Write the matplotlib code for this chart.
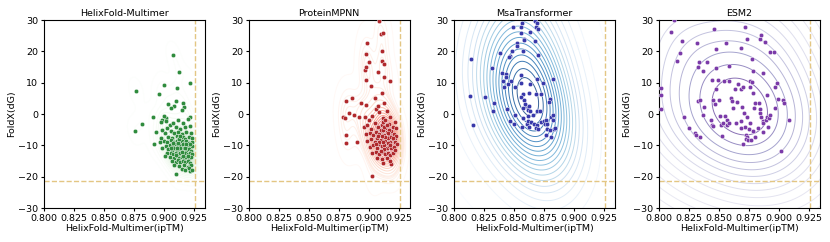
import numpy as np
import seaborn as sns
from matplotlib import pyplot as plt
from matplotlib.colors import ListedColormap

# ---- data (ipTM, FoldX dG) ----
helix_pts = [
    (0.908, 18.8), (0.913, 13.4), (0.922, 10.0), (0.877, 7.3), (0.900, 9.1), (0.911, 8.2),
    (0.896, 6.3), (0.904, 3.1), (0.910, 4.3), (0.909, 2.7), (0.906, 2.0), (0.916, 3.4),
    (0.917, 2.1), (0.915, 1.2), (0.922, -0.9), (0.891, -0.9), (0.902, -1.4), (0.899, -1.9),
    (0.894, -5.6), (0.882, -3.2), (0.876, -5.4), (0.892, -9.7), (0.910, -19.0), (0.922, -18.2),
    (0.905, -3.5), (0.908, -2.8), (0.912, -2.0), (0.916, -3.0), (0.920, -1.5), (0.903, -4.5),
    (0.910, -4.2), (0.914, -4.8), (0.918, -4.0), (0.922, -3.8), (0.901, -6.0), (0.906, -5.5),
    (0.909, -6.2), (0.912, -5.8), (0.915, -6.5), (0.919, -5.6), (0.923, -6.0), (0.904, -7.2),
    (0.907, -7.8), (0.911, -7.0), (0.913, -7.5), (0.916, -7.2), (0.918, -7.9), (0.921, -7.4),
    (0.924, -7.6), (0.900, -8.6), (0.903, -8.9), (0.906, -8.4), (0.909, -8.8), (0.911, -8.5),
    (0.913, -9.0), (0.915, -8.6), (0.917, -9.1), (0.919, -8.7), (0.921, -9.2), (0.924, -8.8),
    (0.902, -10.2), (0.905, -9.8), (0.908, -10.0), (0.910, -9.6), (0.912, -10.3), (0.914, -9.9),
    (0.916, -10.4), (0.918, -10.0), (0.920, -10.5), (0.922, -10.1), (0.924, -10.3), (0.904, -11.2),
    (0.907, -11.5), (0.909, -11.0), (0.911, -11.4), (0.913, -11.1), (0.915, -11.6), (0.917, -11.2),
    (0.919, -11.7), (0.921, -11.3), (0.923, -11.8), (0.903, -12.6), (0.906, -12.3), (0.908, -12.8),
    (0.910, -12.5), (0.912, -12.9), (0.914, -12.4), (0.916, -12.8), (0.918, -12.3), (0.920, -12.9),
    (0.922, -12.5), (0.924, -12.7), (0.905, -13.6), (0.909, -13.9), (0.911, -13.5), (0.913, -14.0),
    (0.915, -13.6), (0.917, -14.1), (0.919, -13.7), (0.921, -14.2), (0.923, -13.8), (0.907, -14.9),
    (0.910, -15.2), (0.912, -14.8), (0.914, -15.3), (0.916, -15.0), (0.918, -15.4), (0.920, -15.0),
    (0.922, -15.5), (0.909, -16.3), (0.913, -16.5), (0.917, -16.2), (0.920, -16.8), (0.923, -16.4),
    (0.915, -17.4), (0.918, -17.9), (0.921, -17.2), (0.924, -18.0), (0.898, -2.5), (0.899, -5.0),
    (0.897, -9.0), (0.899, -11.0), (0.901, -13.5), (0.898, -7.5), (0.902, -2.2), (0.900, -0.5),
    (0.912, -9.3), (0.914, -10.8), (0.916, -9.5), (0.913, -8.0), (0.917, -10.9), (0.915, -12.0),
    (0.911, -10.7), (0.919, -9.6), (0.918, -11.0), (0.914, -7.0), (0.910, -13.2), (0.920, -13.3),
    (0.922, -9.7), (0.916, -13.3), (0.908, -9.2), (0.906, -10.8),
]

mpnn_pts = [
    (0.909, 29.8), (0.910, 25.4), (0.912, 25.7), (0.899, 22.8), (0.898, 19.0), (0.911, 20.2),
    (0.900, 16.5), (0.911, 16.8), (0.913, 15.9), (0.897, 14.0), (0.898, 15.1), (0.908, 13.5),
    (0.898, 10.9), (0.913, 11.9), (0.918, 10.6), (0.902, 9.0), (0.911, 6.6), (0.886, 5.2),
    (0.881, 4.0), (0.894, 3.4), (0.905, 5.0), (0.898, 2.9), (0.879, -0.9), (0.880, -1.4),
    (0.884, 0.2), (0.888, -0.3), (0.892, -0.9), (0.881, -6.8), (0.881, -9.4), (0.890, -8.8),
    (0.903, -19.7), (0.919, -16.1), (0.922, -7.8),
    (0.897, -1.0), (0.900, -2.0), (0.903, -0.5), (0.906, 1.5), (0.909, 0.5), (0.912, -1.2),
    (0.915, 0.8), (0.918, -0.8), (0.908, 2.5), (0.913, 3.5), (0.896, -4.0), (0.899, -3.5),
    (0.902, -4.8), (0.905, -3.0), (0.908, -4.2), (0.911, -3.6), (0.914, -4.5), (0.917, -3.2),
    (0.920, -4.0), (0.922, -2.5), (0.898, -6.5), (0.901, -6.0), (0.904, -6.8), (0.906, -5.6),
    (0.909, -6.3), (0.911, -5.4), (0.913, -6.6), (0.915, -5.8), (0.917, -6.9), (0.919, -5.5),
    (0.921, -6.4), (0.923, -7.0), (0.899, -8.5), (0.902, -8.0), (0.905, -8.8), (0.907, -7.6),
    (0.910, -8.2), (0.912, -7.4), (0.914, -8.6), (0.916, -7.8), (0.918, -8.9), (0.920, -8.1),
    (0.922, -9.0), (0.901, -10.5), (0.904, -10.0), (0.907, -10.8), (0.909, -9.6), (0.911, -10.3),
    (0.913, -9.8), (0.915, -10.7), (0.917, -10.1), (0.919, -11.0), (0.921, -10.4), (0.903, -12.5),
    (0.906, -12.0), (0.909, -12.8), (0.912, -12.2), (0.914, -12.9), (0.916, -12.4), (0.918, -13.2),
    (0.920, -12.6), (0.907, -14.0), (0.911, -14.5), (0.915, -14.2), (0.918, -15.0), (0.912, -15.5),
    (0.910, -5.0), (0.912, -5.2), (0.913, -4.0), (0.914, -7.2), (0.911, -7.0), (0.915, -3.5),
    (0.916, -9.2), (0.909, -9.0), (0.913, -11.3), (0.917, -5.0), (0.912, -2.5), (0.908, -7.0),
    (0.906, -9.5), (0.919, -7.3), (0.914, -2.0), (0.910, -11.8), (0.918, -10.0), (0.912, -8.8),
    (0.916, -6.2), (0.920, -7.6), (0.923, -4.5), (0.924, -9.5), (0.922, -11.5),
]

msa_pts = [
    (0.8675, 29.8), (0.8697, 29.1), (0.857, 29.1), (0.869, 27.9), (0.8497, 27.8), (0.8561, 27.8),
    (0.8706, 27.0), (0.856, 25.7), (0.8633, 26.1), (0.868, 23.4), (0.859, 23.9), (0.8586, 23.6),
    (0.853, 22.6), (0.853, 21.8), (0.8486, 20.2), (0.858, 20.2), (0.8386, 19.6), (0.847, 18.6),
    (0.846, 18.3), (0.8706, 18.9), (0.8147, 17.7), (0.8317, 14.6), (0.8405, 13.0), (0.8436, 12.7),
    (0.8436, 11.9), (0.856, 12.3), (0.8694, 11.1), (0.8828, 11.1), (0.8414, 10.6), (0.848, 10.5),
    (0.8564, 10.0), (0.8456, 9.6), (0.8744, 9.8), (0.8422, 8.5), (0.8508, 8.5), (0.864, 9.7),
    (0.814, 5.7), (0.8264, 5.3), (0.8575, 6.3), (0.863, 6.7), (0.869, 6.3), (0.873, 6.5),
    (0.8333, 3.4), (0.8564, 5.3), (0.859, 4.5), (0.8328, 1.1), (0.8444, 1.5), (0.860, 2.6),
    (0.8617, 2.1), (0.863, 2.6), (0.8617, 1.4), (0.8633, 0.8), (0.8575, 2.0), (0.8594, 3.2),
    (0.8694, 0.8), (0.8722, 1.0), (0.8508, -0.3), (0.8575, -1.4), (0.8617, -0.5), (0.8658, -0.4),
    (0.8161, -3.5), (0.8467, -2.1), (0.8503, -3.2), (0.8567, -4.0), (0.8608, -3.2), (0.862, -2.1),
    (0.8647, -2.4), (0.863, -4.0), (0.8667, -3.2), (0.8697, -3.5), (0.873, -2.4), (0.875, -2.1),
    (0.877, -1.9), (0.8764, -3.3), (0.8689, -4.5), (0.8703, -4.9), (0.881, -0.9), (0.8828, -0.3),
    (0.878, -3.2), (0.877, -6.6), (0.8778, -4.7), (0.880, -5.1), (0.8814, -7.2), (0.8833, -4.9),
    (0.8847, -4.6), (0.8828, -1.9), (0.8806, 4.7), (0.8794, 3.9),
]

esm_pts = [
    (0.8133, 30.0), (0.810, 26.1), (0.8197, 23.4), (0.818, 19.4), (0.815, 17.0), (0.8317, 22.6),
    (0.8333, 16.5), (0.8328, 14.9), (0.837, 13.8), (0.8406, 16.7), (0.8458, 27.0), (0.848, 20.6),
    (0.8478, 14.6), (0.8558, 22.8), (0.8583, 15.3), (0.8717, 27.7), (0.8736, 23.8), (0.8683, 21.2),
    (0.8778, 17.6), (0.8786, 13.7), (0.8842, 23.8), (0.8856, 25.2), (0.8883, 22.9), (0.887, 13.0),
    (0.8925, 19.7), (0.8961, 19.7), (0.8986, 9.8), (0.8967, 8.5), (0.8994, 4.8), (0.9036, 4.5),
    (0.9044, 3.6), (0.9083, -1.9), (0.9022, -11.8), (0.8022, 8.2), (0.8022, 6.2), (0.8022, 1.5),
    (0.8211, -1.1), (0.8256, -4.4), (0.830, -6.2), (0.8314, -6.7), (0.8342, -7.2), (0.8328, 4.3),
    (0.8342, 4.5), (0.837, -0.3), (0.8378, 2.1), (0.8433, -1.9), (0.8447, -3.5), (0.8456, -3.8),
    (0.8456, 4.5), (0.8467, 3.1), (0.8447, 10.9), (0.8494, 10.9), (0.8475, 7.9), (0.850, 4.5),
    (0.8517, -3.5), (0.8544, 10.4), (0.8536, -2.8), (0.8508, -0.6), (0.8556, -0.6), (0.8567, -3.5),
    (0.8572, -1.9), (0.8586, -2.8), (0.8589, 10.6), (0.860, 5.0), (0.8611, 4.3), (0.8619, 1.8),
    (0.8647, -3.0), (0.853, -7.0), (0.864, 8.0), (0.8656, 3.9), (0.8661, 9.6), (0.8683, 7.9),
    (0.8692, 2.3), (0.8703, 8.5), (0.8711, 0.4), (0.8739, -0.9), (0.8722, -4.0), (0.8683, -2.1),
    (0.8689, -4.4), (0.8703, -9.6), (0.8731, -6.7), (0.8739, -7.4), (0.8731, -8.1), (0.8744, -8.3),
    (0.8753, -4.9), (0.8758, 8.7), (0.8764, 10.6), (0.8781, 10.1), (0.8786, 6.6), (0.880, 3.4),
    (0.8794, 1.8), (0.8758, -2.8), (0.8786, -5.3), (0.8772, -8.3), (0.880, -7.2), (0.8833, 3.4),
    (0.8844, 1.5), (0.8847, 0.2), (0.8856, -0.9), (0.8869, -2.1), (0.8869, -3.0), (0.8892, -1.9),
    (0.8906, -0.9), (0.8919, -1.4), (0.8911, -4.0), (0.8928, -0.3), (0.890, 6.1), (0.8967, 2.0),
    (0.8869, -5.6), (0.8828, -4.6),
]

titles = ["HelixFold-Multimer", "ProteinMPNN", "MsaTransformer", "ESM2"]
all_pts = [helix_pts, mpnn_pts, msa_pts, esm_pts]
dot_colors = ["#2e8b3c", "#b0282c", "#3838aa", "#7a3aa8"]

# ESM2 contours use the mid part of Purples only
purples_mid = ListedColormap(plt.get_cmap("Purples")(np.linspace(0.2, 0.8, 64)))
kde_cmaps = ["Greens", "Reds", "Blues", purples_mid]
kde_bw = [1.0, 1.0, 3.0, 2.3]
# iso-proportion levels (mass outside each contour)
kde_levels = [20, 20, 20,
              [0.001, 0.004, 0.01, 0.02, 0.04, 0.07, 0.11, 0.16, 0.23,
               0.31, 0.41, 0.53, 0.67, 0.82]]
kde_alpha = [0.3, 0.6, 0.8, 0.75]

iptm_ref = 0.926
dg_ref = -21.5

fig = plt.figure(figsize=(8.3, 2.42), dpi=100)

for k in range(4):
    pts = np.array(all_pts[k])
    ax = fig.add_axes([(43.5 + 205 * k) / 830, 34 / 242, 161 / 830, 188 / 242])

    sns.kdeplot(x=pts[:, 0], y=pts[:, 1], ax=ax, cmap=kde_cmaps[k], levels=kde_levels[k],
                thresh=0.01, bw_adjust=kde_bw[k], linewidths=0.7, alpha=kde_alpha[k], zorder=1)
    ax.scatter(pts[:, 0], pts[:, 1], s=10, color=dot_colors[k], edgecolors="white",
               linewidths=0.3, zorder=3)

    ax.axhline(dg_ref, color="#e3c683", ls="--", lw=1, zorder=2)
    ax.axvline(iptm_ref, color="#e3c683", ls="--", lw=1, zorder=2)

    ax.set_xlim(0.8, 0.934)
    ax.set_ylim(-30, 30)
    ax.set_xticks([0.800, 0.825, 0.850, 0.875, 0.900, 0.925])
    ax.set_xticklabels(["0.800", "0.825", "0.850", "0.875", "0.900", "0.925"])
    ax.set_yticks([-30, -20, -10, 0, 10, 20, 30])
    ax.tick_params(labelsize=6.8, length=2.5, pad=1.5)
    ax.set_title(titles[k], fontsize=6.8, pad=3)
    ax.set_xlabel("HelixFold-Multimer(ipTM)", fontsize=6.8, labelpad=1)
    ax.set_ylabel("FoldX(dG)", fontsize=6.8, labelpad=1)

fig.savefig("out.png", dpi=100)
